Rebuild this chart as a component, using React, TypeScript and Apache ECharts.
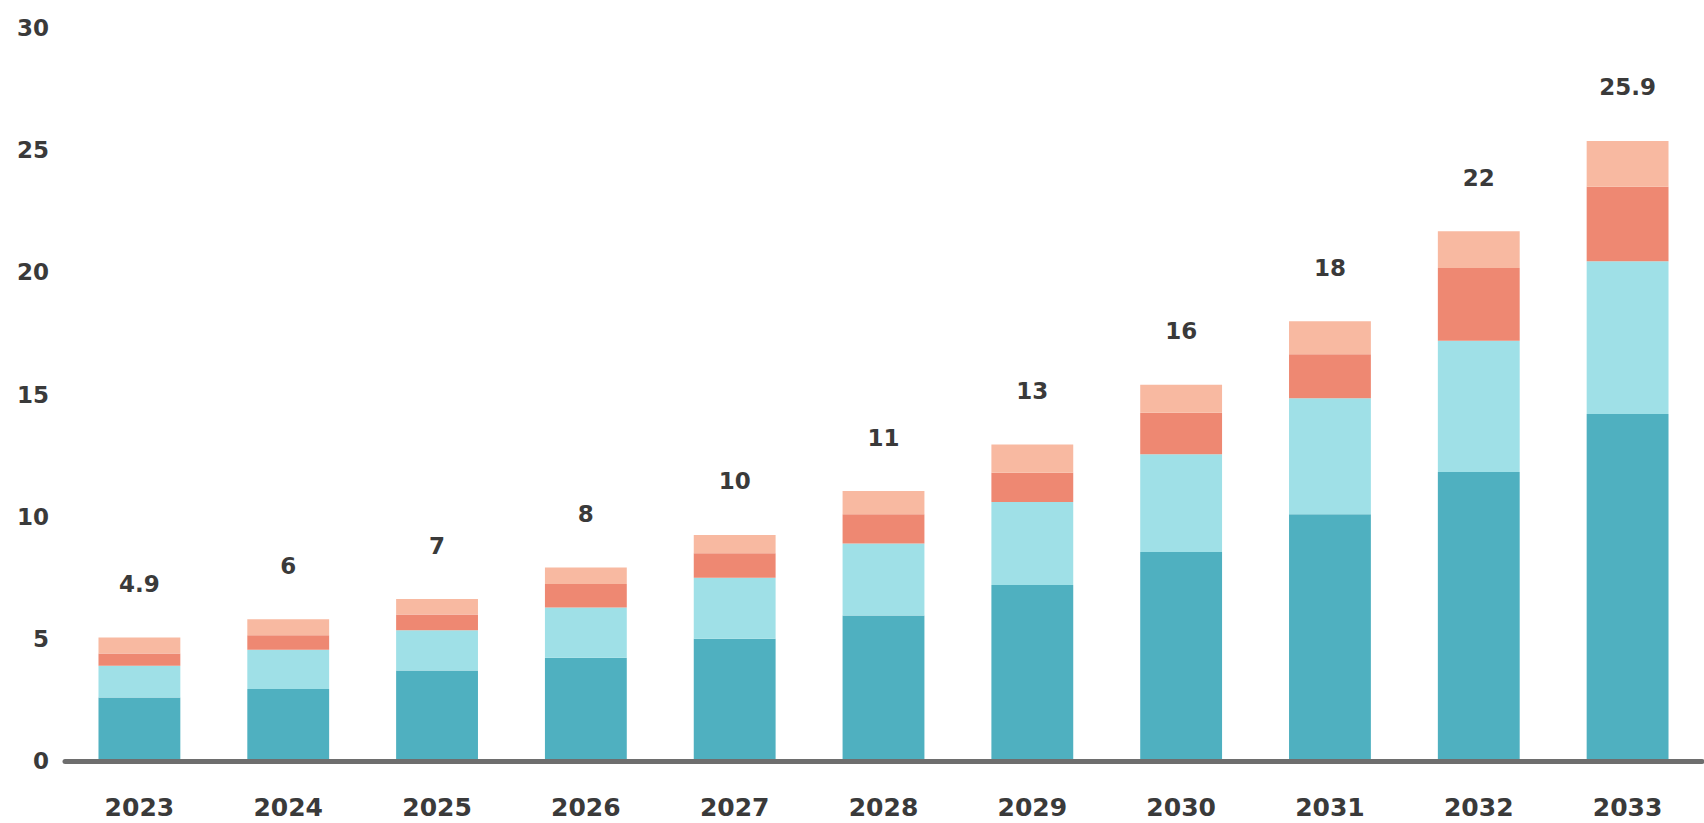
import React, { useEffect, useRef } from "react";
import * as echarts from "echarts";

const years = ["2023", "2024", "2025", "2026", "2027", "2028", "2029", "2030", "2031", "2032", "2033"];
const segmentDark = [2.6, 2.95, 3.7, 4.23, 5.0, 5.95, 7.2, 8.55, 10.1, 11.83, 14.2];
const segmentLight = [1.3, 1.6, 1.65, 2.05, 2.5, 2.95, 3.4, 4.0, 4.75, 5.37, 6.25];
const segmentRed = [0.5, 0.6, 0.65, 0.96, 1.0, 1.2, 1.2, 1.7, 1.8, 2.98, 3.05];
const segmentPeach = [0.65, 0.65, 0.63, 0.68, 0.75, 0.95, 1.15, 1.15, 1.35, 1.5, 1.88];
const totalLabels = ["4.9", "6", "7", "8", "10", "11", "13", "16", "18", "22", "25.9"];

const FONT = "DejaVu Sans";

export default function App() {
  const ref = useRef<HTMLDivElement>(null);
  useEffect(() => {
    if (!ref.current) return;
    const chart = echarts.init(ref.current, undefined, { renderer: "svg" });
    const mk = (name: string, data: number[], color: string, withLabel = false) => ({
      name,
      type: "bar",
      stack: "total",
      data,
      barWidth: "55%",
      itemStyle: { color },
      label: withLabel
        ? {
            show: true,
            position: "top",
            distance: 42,
            formatter: (p: any) => totalLabels[p.dataIndex],
            fontFamily: FONT,
            fontSize: 23,
            fontWeight: "bold",
            color: "#3a3a3a",
          }
        : { show: false },
    });
    chart.setOption({
      animation: false,
      backgroundColor: "#ffffff",
      grid: { left: 65, right: 2, top: 28, bottom: 62, containLabel: false },
      xAxis: {
        type: "category",
        data: years,
        z: 10,
        axisLine: { show: true, lineStyle: { color: "#6e6e6e", width: 5 } },
        axisTick: { show: false },
        axisLabel: {
          fontFamily: FONT,
          fontSize: 25,
          fontWeight: "bold",
          color: "#3a3a3a",
          margin: 34,
        },
      },
      yAxis: {
        type: "value",
        min: 0,
        max: 30,
        interval: 5,
        axisLine: { show: false },
        axisTick: { show: false },
        splitLine: { show: false },
        axisLabel: {
          fontFamily: FONT,
          fontSize: 23,
          fontWeight: "bold",
          color: "#3a3a3a",
          margin: 16,
        },
      },
      series: [
        mk("A", segmentDark, "#4fb0c0"),
        mk("B", segmentLight, "#9fe0e7"),
        mk("C", segmentRed, "#ee8872"),
        mk("D", segmentPeach, "#f8b9a1", true),
      ],
    });
    return () => chart.dispose();
  }, []);
  return (
    <div
      ref={ref}
      style={{ position: "absolute", left: 0, top: 0, width: 1704, height: 823 }}
    />
  );
}
